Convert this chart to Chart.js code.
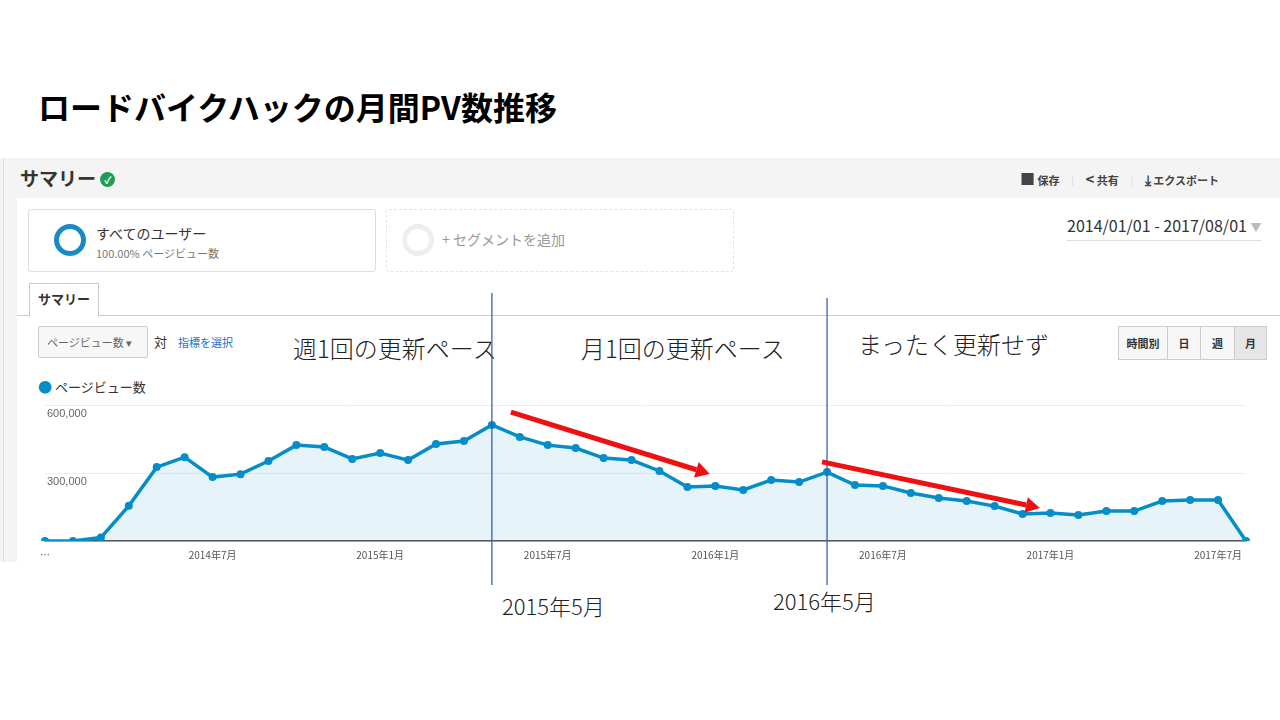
<!DOCTYPE html>
<html><head><meta charset="utf-8">
<script src="https://cdn.jsdelivr.net/npm/chart.js@4"></script>
<style>
body{margin:0;width:1280px;height:720px;background:#fff;position:relative;overflow:hidden;font-family:"Noto Sans CJK JP","Noto Sans",sans-serif;}
.a{position:absolute;white-space:nowrap;}
#c{position:absolute;left:0;top:0;z-index:5;pointer-events:none;}
.btn{position:absolute;top:326px;height:32px;border:1px solid #ccc;background:#f7f7f7;font-size:11px;font-weight:bold;color:#333;line-height:32px;text-align:center;}
</style></head><body>
<div class="a" style="left:38px;top:83px;font-size:32px;font-weight:bold;color:#000;">ロードバイクハックの月間PV数推移</div>
<div class="a" style="left:0;top:158px;width:1280px;height:404px;background:#f4f4f4;"></div>
<div class="a" style="left:3px;top:158px;width:1px;height:404px;background:#ddd;"></div>
<div class="a" style="left:17px;top:198px;width:1263px;height:364px;background:#fff;"></div>
<div class="a" style="left:20px;top:164px;font-size:19px;font-weight:bold;color:#333;">サマリー <span style="display:inline-block;width:15px;height:15px;border-radius:50%;background:#1e9c55;color:#fff;font-size:10px;line-height:15px;text-align:center;vertical-align:2px">✓</span></div>
<div class="a" style="left:1020px;top:168px;font-size:11px;font-weight:bold;color:#444;"><span style="font-size:15px">■</span> 保存 &nbsp;&nbsp;<span style="color:#ccc">│</span>&nbsp;&nbsp; <span style="font-size:15px">&lt;</span> 共有 &nbsp;&nbsp;<span style="color:#ccc">│</span>&nbsp;&nbsp; <span style="font-size:14px">⤓</span> エクスポート</div>
<div class="a" style="left:28px;top:209px;width:346px;height:61px;border:1px solid #ddd;border-radius:3px;"></div>
<div class="a" style="left:54px;top:224px;width:22px;height:22px;border:5px solid #1a8ac5;border-radius:50%;"></div>
<div class="a" style="left:96px;top:223px;font-size:14px;color:#333;">すべてのユーザー</div>
<div class="a" style="left:96px;top:245px;font-size:11px;color:#777;">100.00% ページビュー数</div>
<div class="a" style="left:386px;top:209px;width:346px;height:61px;border:1px dashed #e4e4e4;border-radius:3px;"></div>
<div class="a" style="left:402px;top:224px;width:22px;height:22px;border:5px solid #eee;border-radius:50%;"></div>
<div class="a" style="left:442px;top:229px;font-size:14px;color:#999;">+ セグメントを追加</div>
<div class="a" style="left:1067px;top:213px;font-size:16px;color:#333;border-bottom:1px solid #ddd;padding-bottom:3px;">2014/01/01 - 2017/08/01 <span style="color:#bbb;font-size:11px">▼</span></div>
<div class="a" style="left:17px;top:315px;width:1263px;height:1px;background:#ccc;"></div>
<div class="a" style="left:29px;top:283px;width:68px;height:32px;border:1px solid #ccc;border-bottom:1px solid #fff;background:#fff;font-size:13px;font-weight:bold;color:#333;text-align:center;line-height:30px;">サマリー</div>
<div class="a" style="left:38px;top:326px;width:110px;height:32px;border:1px solid #ccc;border-radius:2px;background:#f7f7f7;font-size:11px;color:#666;line-height:30px;padding-left:8px;box-sizing:border-box;">ページビュー数 ▾</div>
<div class="a" style="left:154px;top:332px;font-size:13px;color:#333;">対</div>
<div class="a" style="left:178px;top:334px;font-size:11px;color:#1a73c8;">指標を選択</div>
<div class="a" style="left:38px;top:376px;font-size:13px;color:#333;"><span style="color:#058dc7;font-size:14px">●</span> ページビュー数</div>
<div class="btn" style="left:1118px;width:48px;">時間別</div>
<div class="btn" style="left:1167px;width:32px;">日</div>
<div class="btn" style="left:1200px;width:33px;">週</div>
<div class="btn" style="left:1234px;width:31px;background:#e6e6e6;">月</div>
<div class="a" style="left:293px;top:330px;font-size:24px;font-weight:300;color:#222;">週1回の更新ペース</div>
<div class="a" style="left:581px;top:330px;font-size:24px;font-weight:300;color:#222;">月1回の更新ペース</div>
<div class="a" style="left:858px;top:326px;font-size:24px;font-weight:300;color:#222;">まったく更新せず</div>
<div class="a" style="left:502px;top:589px;font-size:22px;font-weight:300;color:#222;">2015年5月</div>
<div class="a" style="left:773px;top:584px;font-size:22px;font-weight:300;color:#222;">2016年5月</div>
<canvas id="c" width="1280" height="720"></canvas>
<script>
const months = [];
for (let y = 2014; y <= 2017; y++) for (let m = 1; m <= 12; m++) { if (y === 2017 && m > 8) break; months.push(y + '年' + m + '月'); }
const pageViews = [0,0,15000,155000,326000,370000,282000,295000,353000,423000,415000,362000,
  388000,357000,428000,441000,512000,459000,423000,410000,366000,357000,309000,238000,
  243000,225000,269000,260000,304000,247000,243000,212000,190000,176000,154000,119000,
  124000,115000,132000,132000,176000,181000,181000,0];
const yTicks = [300000, 600000];
const markerMonths = ['2015年5月', '2016年5月'];
const arrows = [[16.68,569000,23.8,296000],[27.82,349000,35.62,146000]];

const overlay = {
  id:'overlay',
  afterDatasetsDraw(ch){
    const c=ch.ctx, x=ch.scales.x, y=ch.scales.y;
    c.save();
    c.fillStyle='#666'; c.font='11px "Liberation Sans", Arial'; c.textBaseline='middle';
    yTicks.forEach(v=>c.fillText(v.toLocaleString('en-US'), 47, y.getPixelForValue(v)+9));
    c.strokeStyle='#3a5fb0'; c.lineWidth=1.3;
    markerMonths.forEach((m,i)=>{const px=x.getPixelForValue(months.indexOf(m));c.beginPath();c.moveTo(px,i?298:293);c.lineTo(px,585);c.stroke();});
    c.strokeStyle='#ee1111'; c.fillStyle='#ee1111'; c.lineWidth=5;
    arrows.forEach(a=>{
      const x1=x.getPixelForValue(a[0]),y1=y.getPixelForValue(a[1]),x2=x.getPixelForValue(a[2]),y2=y.getPixelForValue(a[3]);
      const ang=Math.atan2(y2-y1,x2-x1);
      const bx=x2-14*Math.cos(ang), by=y2-14*Math.sin(ang);
      c.beginPath();c.moveTo(x1,y1);c.lineTo(bx,by);c.stroke();
      c.beginPath();c.moveTo(x2,y2);
      c.lineTo(bx+8*Math.sin(ang),by-8*Math.cos(ang));
      c.lineTo(bx-8*Math.sin(ang),by+8*Math.cos(ang));c.closePath();c.fill();
    });
    c.restore();
  }
};
new Chart(document.getElementById('c'),{
  type:'line',
  data:{labels:months,datasets:[{data:pageViews,borderColor:'#058dc7',borderWidth:3.5,backgroundColor:'rgba(5,141,199,0.1)',fill:true,pointRadius:4,pointBackgroundColor:'#058dc7',pointBorderWidth:0,tension:0}]},
  options:{responsive:false,animation:false,
    layout:{padding:{left:45,right:34,top:405,bottom:154}},
    plugins:{legend:{display:false},tooltip:{enabled:false}},
    scales:{
      x:{offset:false,afterFit(s){s.height=25;},grid:{display:false},border:{color:'#555',width:1.5},
        ticks:{autoSkip:false,maxRotation:0,padding:0,color:'#555',font:{size:10,family:'"Noto Sans CJK JP"'},
          callback(v,i){const m=months[i]; if(i===0) return '…'; return (m.endsWith('年7月')||m.endsWith('年1月'))?m:'';}}},
      y:{display:true,min:0,max:600000,afterFit(s){s.width=0;},ticks:{display:false,stepSize:300000},grid:{color:'#eeeeee',drawTicks:false},border:{display:false}}
    }},
  plugins:[overlay]
});
</script>
</body></html>
